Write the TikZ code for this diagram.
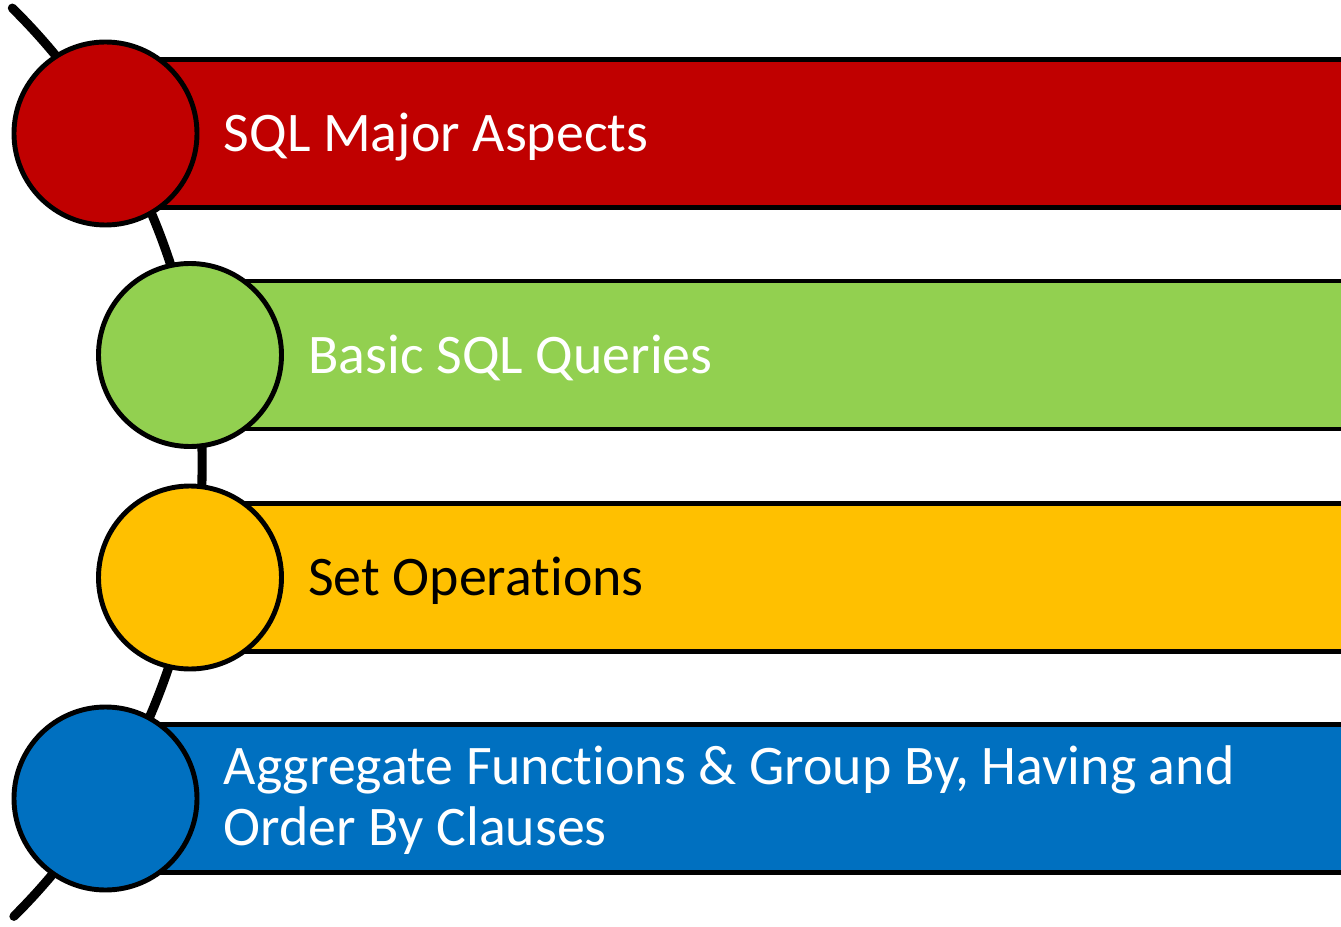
\documentclass[tikz,border=0pt]{standalone}
\usepackage{fontspec}
\setmainfont{Carlito}[Ligatures={NoCommon}]
\usetikzlibrary{positioning}
\definecolor{aspRed}{HTML}{C00000}
\definecolor{aspGreen}{HTML}{92D050}
\definecolor{aspYellow}{HTML}{FFC000}
\definecolor{aspBlue}{HTML}{0070C0}
\tikzset{
  spine/.style = {line width=5.2pt, line cap=round},
  bullet/.style = {circle, draw, line width=2.8pt, minimum size=3.66cm, inner sep=0pt},
  bar/.style = {rectangle, draw, line width=2.8pt, minimum height=2.96cm, minimum width=25.5cm, anchor=west},
  itemtext/.style = {anchor=west, inner sep=0pt, font=\fontsize{31.8pt}{35pt}\selectfont,
    text height=20.5pt, text depth=0pt, text=white}
}
\begin{document}
\begin{tikzpicture}
  \useasboundingbox (0,0) rectangle (26.82,18.52);
  % spine
  \draw[spine] (-8.756,9.26) ++(45.3:12.8) arc[start angle=45.3, end angle=-45.1, radius=12.8];
  % place positions
  \coordinate (sqlPos) at (2.11,15.85);
  \coordinate (basicPos) at (3.80,11.42);
  \coordinate (setPos) at (3.80,6.97);
  \coordinate (aggPos) at (2.11,2.55);
  % bars
  \node [bar, fill=aspRed] (sqlBar) at (sqlPos) {};
  \node [bar, fill=aspGreen] (basicBar) at (basicPos) {};
  \node [bar, fill=aspYellow] (setBar) at (setPos) {};
  \node [bar, fill=aspBlue] (aggBar) at (aggPos) {};
  % circles
  \node [bullet, fill=aspRed] (sql) at (sqlPos) {};
  \node [bullet, fill=aspGreen] (basic) at (basicPos) {};
  \node [bullet, fill=aspYellow] (set) at (setPos) {};
  \node [bullet, fill=aspBlue] (agg) at (aggPos) {};
  % texts
  \node [itemtext, right=0.48cm of sql] (sqlText) {SQL Major Aspects};
  \node [itemtext, right=0.48cm of basic] (basicText) {Basic SQL Queries};
  \node [itemtext, right=0.48cm of set, text=black] (setText) {Set Operations};
  \node [itemtext, right=0.48cm of agg, align=left, text height=55.5pt, yshift=1pt] (aggText)
    {Aggregate Functions \& Group By, Having and\\Order By Clauses};
\end{tikzpicture}
\end{document}
